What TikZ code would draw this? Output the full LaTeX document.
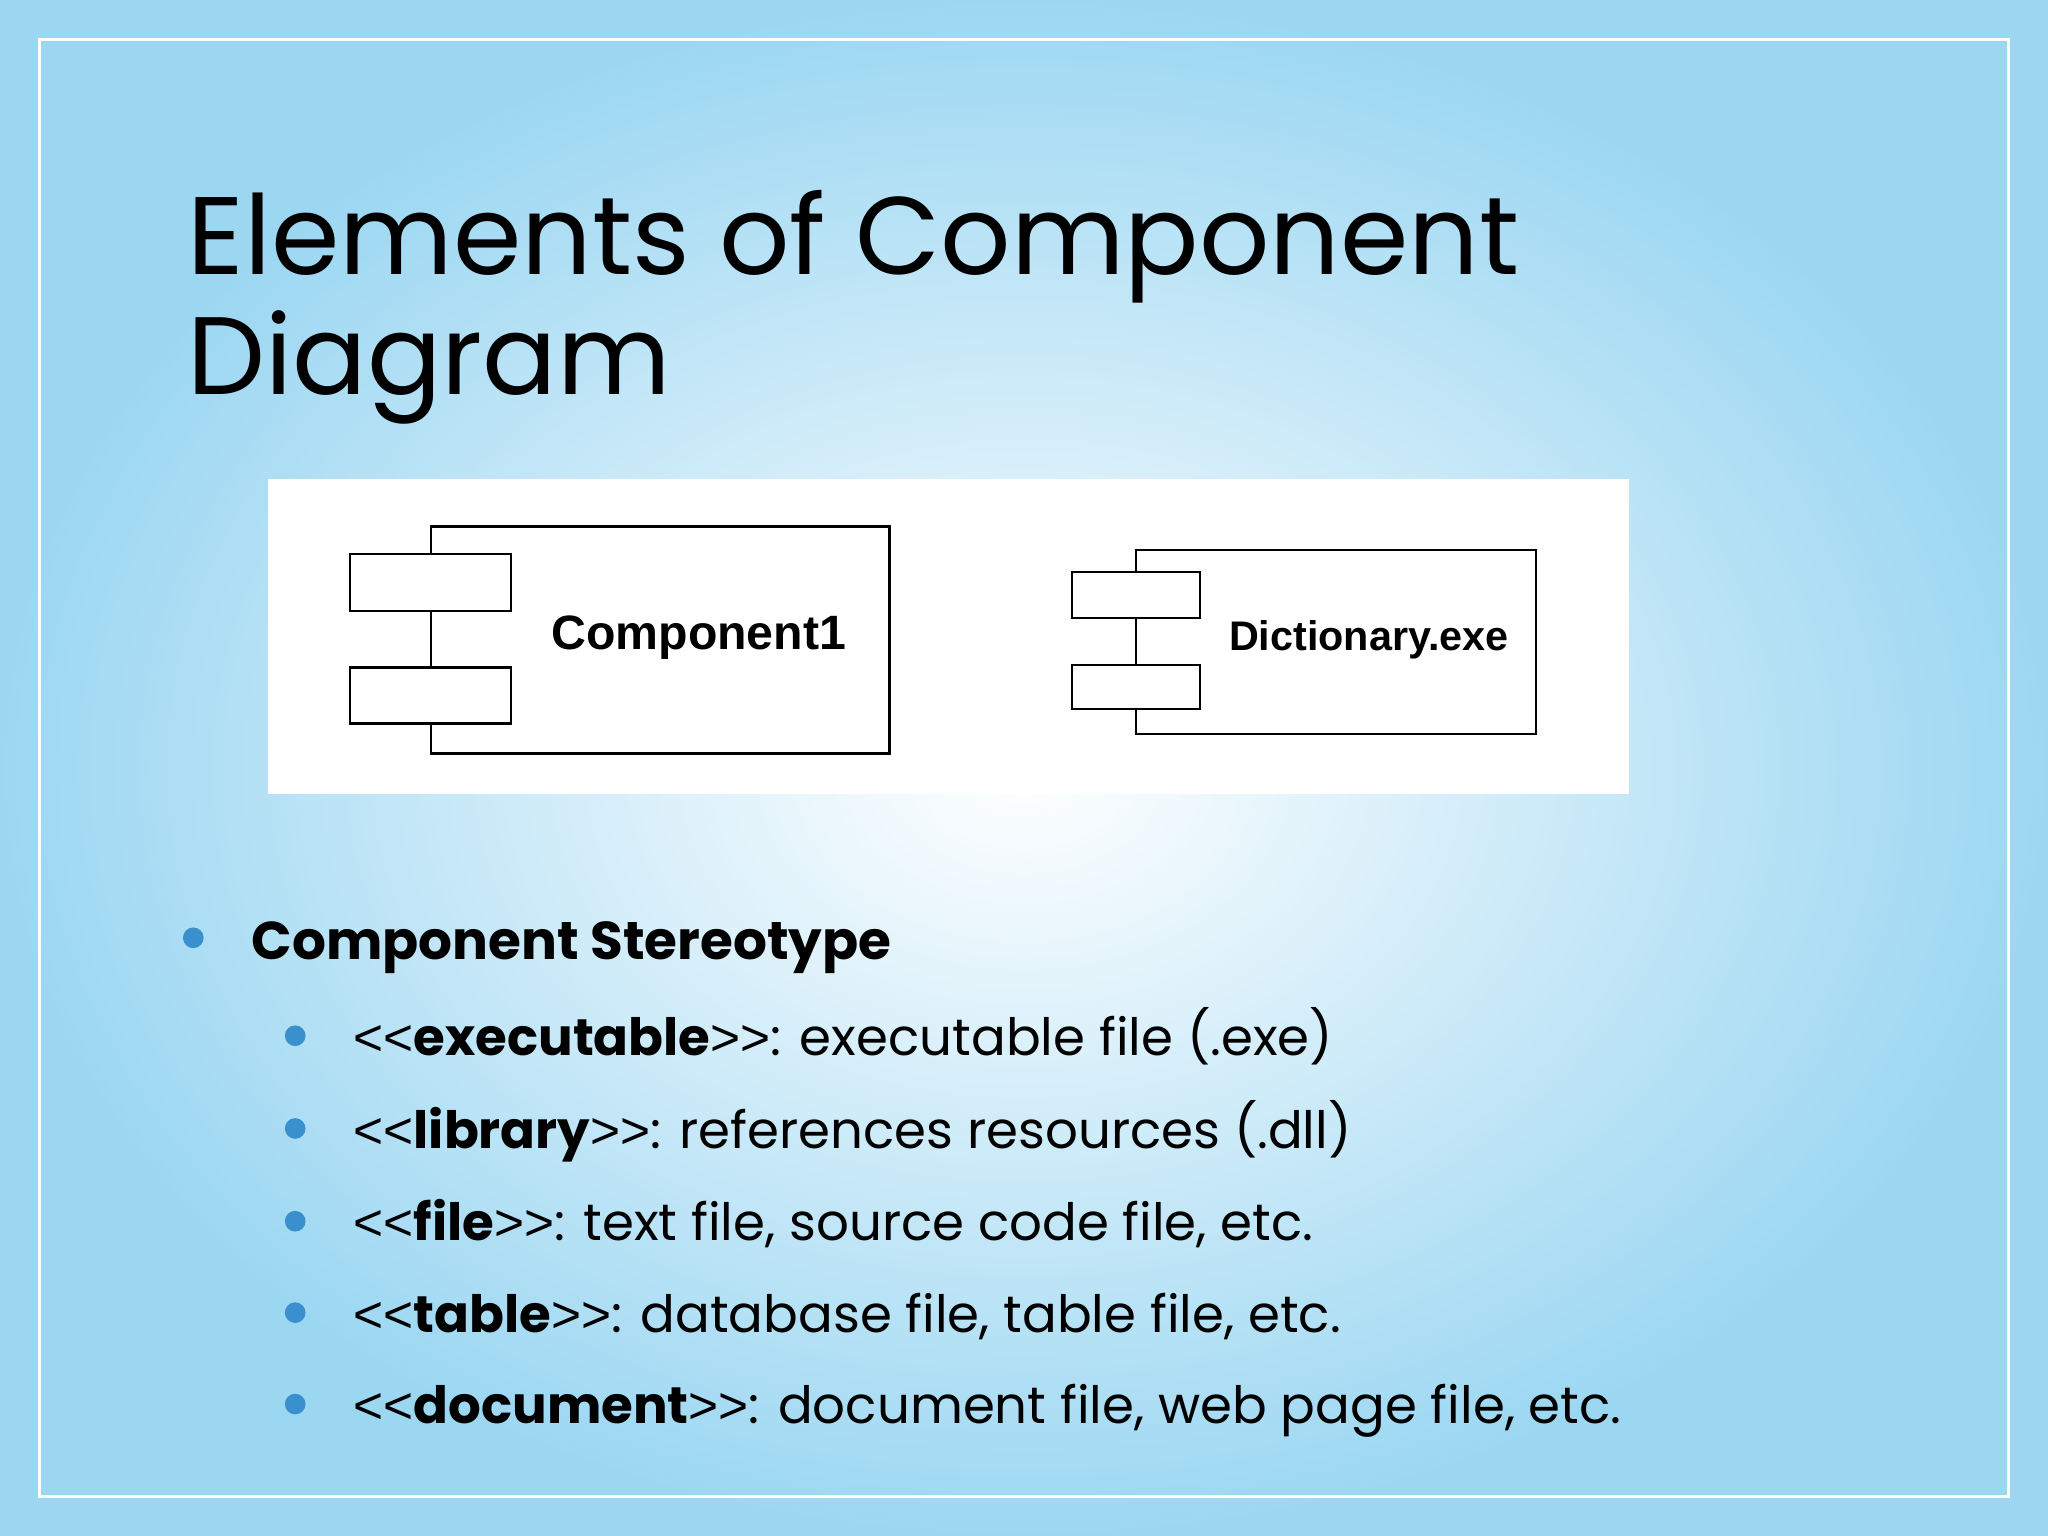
\documentclass[tikz,border=0pt]{standalone}
\usepackage{fontspec}
\setmainfont{Poppins}
\newfontfamily\arial{Liberation Sans}
\newcommand{\lt}{{\arial<<}}
\newcommand{\gt}{{\arial>>}}
\begin{document}
\begin{tikzpicture}[x=0.01cm,y=-0.01cm,
  box/.style={draw=black,line width=0.5pt,fill=white},
  bul/.style={circle,fill=bulblue,inner sep=0pt,minimum size=4.5pt},
  itm/.style={anchor=base west,inner sep=0pt,font=\fontsize{11.2}{14}\selectfont}]
\definecolor{bulblue}{HTML}{3A90CC}
\definecolor{skyb}{HTML}{9CD7F2}
\useasboundingbox (0,0) rectangle (1568,1176);
\shade[inner color=white,outer color=skyb] (0,0) rectangle (1568,1176);
\draw[white,line width=0.6pt] (30,30) rectangle (1538,1146);
\node[anchor=base west,inner sep=0pt,font=\fontsize{24}{24}\selectfont] (title) at (143,210) {Elements of Component};
\node[anchor=base west,inner sep=0pt,font=\fontsize{24}{24}\selectfont] (title2) at (143,302) {Diagram};
\fill[white] (205,367) rectangle (1247,608);
% Component1
\draw[box] (330,403) rectangle (681,577);
\draw[box] (268,424) rectangle (391,468);
\draw[box] (268,511) rectangle (391,554);
\node[font=\arial\bfseries\fontsize{10.5}{13}\selectfont] (c1) at (535,488) {Component1};
% Dictionary
\draw[box] (870,421) rectangle (1176,562);
\draw[box] (821,438) rectangle (919,473);
\draw[box] (821,509) rectangle (919,543);
\node[font=\arial\bfseries\fontsize{9}{11}\selectfont] (c2) at (1048,490) {Dictionary.exe};
% bullets
\node[bul] (b0) at (148,718) {};
\node[itm,font=\bfseries\fontsize{11.6}{14}\selectfont] (t0) at (192,735) {Component Stereotype};
\node[bul] (b1) at (226,793) {};
\node[itm] (t1) at (270,808) {\lt\textbf{executable}\gt: executable file (.exe)};
\node[bul] (b2) at (226,864) {};
\node[itm] (t2) at (270,879) {\lt\textbf{library}\gt: references resources (.dll)};
\node[bul] (b3) at (226,935) {};
\node[itm] (t3) at (270,950) {\lt\textbf{file}\gt: text file, source code file, etc.};
\node[bul] (b4) at (226,1005) {};
\node[itm] (t4) at (270,1020) {\lt\textbf{table}\gt: database file, table file, etc.};
\node[bul] (b5) at (226,1075) {};
\node[itm] (t5) at (270,1090) {\lt\textbf{document}\gt: document file, web page file, etc.};
\end{tikzpicture}
\end{document}
